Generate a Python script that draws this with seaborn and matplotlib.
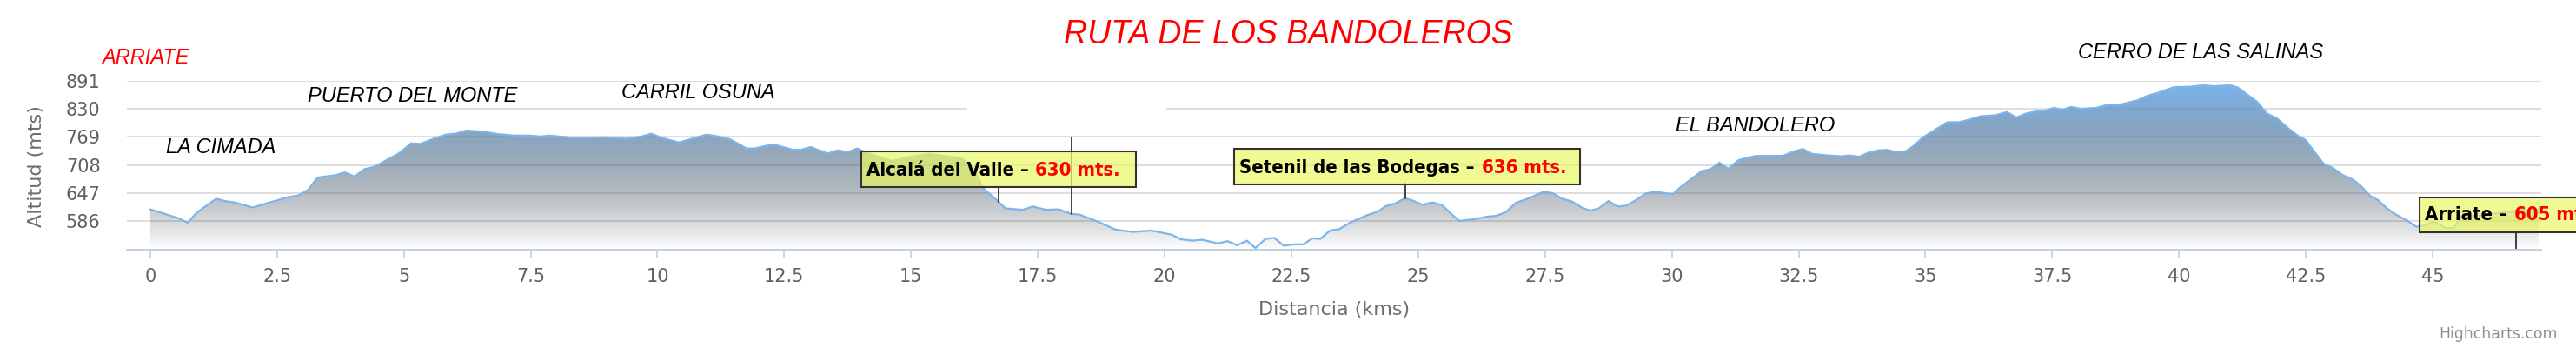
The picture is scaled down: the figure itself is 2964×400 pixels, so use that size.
import numpy as np
import pandas as pd
import matplotlib
matplotlib.use("Agg")
import matplotlib.pyplot as plt
import seaborn as sns
from matplotlib.patches import Rectangle
from matplotlib import font_manager

# ---------------- data ----------------
km = [0.00, 0.55, 0.74, 0.92, 1.30, 1.47, 1.66, 2.02, 2.39, 2.74, 2.92, 3.11, 3.30, 3.65,
      3.84, 4.03, 4.22, 4.41, 4.60, 4.91, 5.14, 5.33, 5.56, 5.83, 6.02, 6.23, 6.59, 6.86,
      7.16, 7.47, 7.70, 7.87, 8.35, 9.00, 9.38, 9.69, 9.88, 10.11, 10.43, 10.74, 10.97,
      11.20, 11.43, 11.76, 11.92, 12.28, 12.68, 12.83, 13.02, 13.36, 13.55, 13.75, 13.94,
      14.09, 14.63, 15.03, 15.37, 15.71, 16.00, 16.23, 16.43, 16.73, 16.86, 17.20, 17.40,
      17.66, 17.91, 18.16, 18.31, 18.69, 19.03, 19.37, 19.74, 20.14, 20.32, 20.55, 20.74,
      21.05, 21.24, 21.43, 21.62, 21.79, 21.99, 22.16, 22.35, 22.54, 22.73, 22.91, 23.07,
      23.26, 23.44, 23.67, 24.01, 24.20, 24.36, 24.55, 24.74, 24.89, 25.08, 25.28, 25.47,
      25.66, 25.81, 26.08, 26.35, 26.54, 26.73, 26.92, 27.11, 27.30, 27.47, 27.65, 27.84,
      28.03, 28.22, 28.39, 28.56, 28.75, 28.93, 29.10, 29.29, 29.48, 29.67, 30.02, 30.17,
      30.40, 30.59, 30.76, 30.94, 31.11, 31.32, 31.66, 32.19, 32.39, 32.58, 32.77, 33.07,
      33.34, 33.49, 33.69, 33.88, 34.07, 34.24, 34.43, 34.61, 34.76, 34.95, 35.14, 35.43,
      35.66, 35.85, 36.09, 36.38, 36.61, 36.79, 36.99, 37.22, 37.36, 37.53, 37.71, 37.87,
      38.07, 38.37, 38.60, 38.79, 39.17, 39.37, 39.59, 39.90, 40.24, 40.46, 40.70, 41.01,
      41.16, 41.54, 41.73, 41.93, 42.16, 42.35, 42.50, 42.66, 42.85, 43.04, 43.23, 43.42,
      43.57, 43.77, 43.92, 44.11, 44.30, 44.49, 44.68, 44.83, 45.02, 45.25, 45.41, 45.55,
      46.00, 46.44, 46.67, 47.10]
alt = [612, 593, 583, 605, 635, 630, 627, 616, 628, 639, 642, 654, 681, 686,
       692, 683, 699, 704, 715, 734, 755, 754, 764, 774, 776, 783, 780, 775,
       772, 772, 770, 772, 767, 768, 765, 770, 776, 766, 757, 767, 774,
       770, 764, 744, 744, 753, 741, 741, 747, 733, 740, 736, 744,
       736, 717, 727, 732, 727, 723, 701, 657, 628, 614, 611, 618,
       611, 612, 602, 601, 585, 568, 563, 566, 557, 547, 544, 546,
       538, 543, 534, 544, 528, 548, 550, 533, 536, 536, 549, 548,
       566, 569, 584, 600, 607, 619, 625, 636, 631, 622, 627, 621,
       601, 587, 590, 596, 598, 606, 626, 633, 642, 650, 647, 635,
       629, 616, 609, 614, 630, 618, 620, 632, 646, 650, 645, 660,
       679, 695, 699, 713, 700, 719, 728, 728, 737, 743, 732, 729,
       727, 729, 726, 735, 740, 741, 736, 738, 749, 768, 781, 801,
       801, 806, 814, 816, 823, 811, 820, 825, 826, 832, 828, 834,
       830, 832, 839, 838, 848, 858, 865, 877, 878, 881, 879, 881,
       876, 845, 820, 809, 787, 771, 762, 738, 711, 701, 686, 677,
       664, 641, 632, 613, 599, 588, 574, 577, 586, 572, 571, 595,
       600, 606, 610, 612]

y_ticks = [586, 647, 708, 769, 830, 891]
x_ticks = [0, 2.5, 5, 7.5, 10, 12.5, 15, 17.5, 20, 22.5, 25, 27.5, 30, 32.5, 35,
           37.5, 40, 42.5, 45]
x_tick_labels = ["0", "2.5", "5", "7.5", "10", "12.5", "15", "17.5", "20", "22.5",
                 "25", "27.5", "30", "32.5", "35", "37.5", "40", "42.5", "45"]
y_min, y_max = 525, 891

title = "RUTA DE LOS BANDOLEROS"
zone_labels = ["ARRIATE", "LA CIMADA", "PUERTO DEL MONTE", "CARRIL OSUNA",
               "EL BANDOLERO", "CERRO DE LAS SALINAS"]
zone_colors = ["red", "black", "black", "black", "black", "black"]
tip_names = ["Alcalá del Valle", "Setenil de las Bodegas", "Arriate"]
tip_alts = [630, 636, 605]
tip_km = [16.73, 24.74, 46.65]
extra_marker_km = 18.16

# ---------------- layout (pixels) ----------------
W, H = 2964, 400
PL, PR, PT, PB = 146, 2924, 92.7, 286.7

sns.set_theme(style="white")
plt.rcParams['font.family'] = ['DejaVu Sans']

# condensed bold font for the tooltips if available
tip_font = font_manager.FontProperties(family="DejaVu Sans", weight="bold",
                                       stretch="condensed", size=15.8)
try:
    fpath = font_manager.findfont(tip_font, fallback_to_default=True)
    if "Condensed" not in fpath:
        tip_font = font_manager.FontProperties(family="DejaVu Sans", weight="bold", size=14.4)
except Exception:
    tip_font = font_manager.FontProperties(family="DejaVu Sans", weight="bold", size=14.4)

fig = plt.figure(figsize=(W / 100, H / 100), dpi=100)
fig.patch.set_facecolor("white")
ax = fig.add_axes([PL / W, 1 - PB / H, (PR - PL) / W, (PB - PT) / H])
ax.set_facecolor("white")

def fx(px):
    return px / W

def fy(py):
    return 1 - py / H

def py_to_data(py):
    return y_min + (PB - py) / (PB - PT) * (y_max - y_min)

df = pd.DataFrame({"km": km, "alt": alt})

# gradient area
poly = ax.fill_between(df["km"], df["alt"], y_min, facecolor="none", edgecolor="none")
t = np.linspace(0, 1, 400)
grad = np.zeros((400, 1, 4))
grad[:, 0, 0] = (124 * (1 - t) + 2 * t) / 255
grad[:, 0, 1] = 181 * (1 - t) / 255
grad[:, 0, 2] = 236 * (1 - t) / 255
grad[:, 0, 3] = 1 - t
im = ax.imshow(grad, extent=[min(km), max(km), y_min, max(alt)], aspect="auto",
               origin="upper", zorder=1, interpolation="bilinear")
im.set_clip_path(poly.get_paths()[0], transform=ax.transData)

sns.lineplot(data=df, x="km", y="alt", ax=ax, color="#7cb5ec", lw=1.6, zorder=3,
             sort=False)

ax.set_xlim(-0.46, 47.14)
ax.set_ylim(y_min, y_max)
ax.set_yticks(y_ticks)
ax.set_yticklabels([str(v) for v in y_ticks])
ax.set_xticks(x_ticks)
ax.set_xticklabels(x_tick_labels)
ax.yaxis.grid(True, color="#D8D8D8", lw=1.2)
ax.xaxis.grid(False)
ax.set_axisbelow(True)
for s in ["left", "right", "top"]:
    ax.spines[s].set_visible(False)
ax.spines["bottom"].set_color("#C0D0E0")
ax.spines["bottom"].set_linewidth(1.4)
ax.spines["bottom"].set_zorder(4)
ax.tick_params(axis="x", length=7.2, width=1.2, color="#C0D0E0", pad=8,
               labelsize=15, labelcolor="#606060", direction="out", bottom=True)
ax.tick_params(axis="y", length=0, pad=22, labelsize=15, labelcolor="#606060")

ax.set_xlabel("Distancia (kms)", fontsize=16, color="#6d6d6d")
ax.xaxis.set_label_coords(0.5, (PB - 356) / (PB - PT))
ax.xaxis.label.set_va("center")
ax.set_ylabel("Altitud (mts)", fontsize=16, color="#6d6d6d")
ax.yaxis.set_label_coords((42 - PL) / (PR - PL), (PB - 191) / (PB - PT))
ax.yaxis.label.set_va("center")

# white label box breaking the 830 gridline
ax.add_patch(Rectangle((-0.46 + (1113 - PL) / (PR - PL) * 47.6, py_to_data(140)),
                       (1342 - 1113) / (PR - PL) * 47.6, py_to_data(112) - py_to_data(140),
                       facecolor="white", edgecolor="none", zorder=0.9))

# title and zone labels
fig.text(fx(1482), fy(50), title, color="red", fontsize=27, style="italic",
         family="Liberation Sans", ha="center", va="baseline")
zone_pos = [(117, 73.3), (191, 175.7), (354, 117.3), (715, 113.3), (1928, 151), (2391, 66.7)]
for lab, col, (x0, b0) in zip(zone_labels, zone_colors, zone_pos):
    fig.text(fx(x0), fy(b0), lab, color=col, fontsize=17, style="italic",
             family="Liberation Sans", ha="left", va="baseline")

fig.text(fx(2943), fy(389), "Highcharts.com", color="#909090", fontsize=12.4,
         ha="right", va="baseline")

# tooltips
boxes = [(990.7, 174.3, 1307, 215.3), (1420.4, 170.7, 1817.5, 211.5), (2784.3, 226.7, 3100, 267.3)]
text_pos = [(996.7, 202.3), (1426.5, 198.5), (2790, 253.3)]
renderer = fig.canvas.get_renderer()
for name, a, (x0, y0, x1, y1), (tx, tb) in zip(tip_names, tip_alts, boxes, text_pos):
    fig.patches.append(Rectangle((fx(x0), fy(y1)), (x1 - x0) / W, (y1 - y0) / H,
                                 transform=fig.transFigure, facecolor=(235/255, 248/255, 100/255, 0.7),
                                 edgecolor="#333333", lw=1.5, zorder=4))
    t1 = fig.text(fx(tx), fy(tb), f"{name} –", color="black", fontproperties=tip_font,
                  ha="left", va="baseline", zorder=5)
    bb = t1.get_window_extent(renderer=renderer)
    fig.text((bb.x1 + 8) / W, fy(tb), f"{a} mts.", color="red", fontproperties=tip_font,
             ha="left", va="baseline", zorder=5)

kmarr = np.array(km)
altarr = np.array(alt)
conn = [(tip_km[0], float(np.interp(tip_km[0], kmarr, altarr)), py_to_data(boxes[0][3])),
        (extra_marker_km, float(np.interp(extra_marker_km, kmarr, altarr)), py_to_data(158)),
        (tip_km[1], float(np.interp(tip_km[1], kmarr, altarr)), py_to_data(boxes[1][3])),
        (tip_km[2], y_min, py_to_data(boxes[2][3]))]
for xk, ya, yb in conn:
    ax.plot([xk, xk], [ya, yb], color="#333333", lw=1.3, zorder=3.5, clip_on=False)

fig.savefig("out.png", dpi=100, facecolor="white")
